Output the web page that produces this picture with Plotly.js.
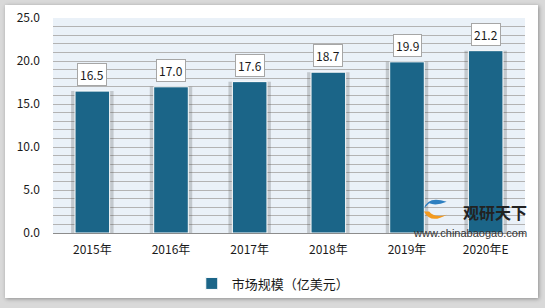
<!DOCTYPE html>
<html>
<head>
<meta charset="utf-8">
<script src="https://cdn.plot.ly/plotly-3.0.1.min.js"></script>
<style>
  html, body { margin:0; padding:0; width:545px; height:308px; background:#d9d9d9; overflow:hidden; }
  #panel { position:absolute; left:5px; top:5px; width:533px; height:293px; background:#fff; box-shadow: 1px 1px 4px rgba(0,0,0,0.35); }
  #chart { width:533px; height:293px; }
</style>
</head>
<body>
<div id="panel"><div id="chart"></div></div>
<script>
const categories = ["2015年", "2016年", "2017年", "2018年", "2019年", "2020年E"];
const marketSize = [16.5, 17.0, 17.6, 18.7, 19.9, 21.2];
const seriesName = "市场规模（亿美元）";
const yTicks = [0, 5, 10, 15, 20, 25];
const yTickText = ["0.0", "5.0", "10.0", "15.0", "20.0", "25.0"];

const FONT = '"Noto Sans CJK SC", "Noto Sans", sans-serif';

const shadow = {
  type: 'bar', x: categories, y: marketSize, width: 0.54,
  marker: { color: 'rgba(60,60,60,0.22)' },
  hoverinfo: 'skip', showlegend: false
};
const bars = {
  type: 'bar', x: categories, y: marketSize, name: seriesName, width: 0.44,
  marker: { color: '#1b6588', line: { color: '#ffffff', width: 1 } }
};

const annotations = categories.map((c, i) => ({
  x: c, y: marketSize[i], xref: 'x', yref: 'y',
  text: marketSize[i].toFixed(1), showarrow: false,
  yanchor: 'bottom', yshift: 5,
  bgcolor: '#ffffff', bordercolor: '#a6a6a6', borderwidth: 1, borderpad: 2,
  font: { family: FONT, size: 12, color: '#1a1a1a' }
}));
annotations.push({
  xref: 'paper', yref: 'paper', x: 1.008, y: 0.098, xanchor: 'right', yanchor: 'middle',
  text: '<b>观研天下</b>', showarrow: false,
  font: { family: FONT, size: 16, color: '#222' }
});
annotations.push({
  xref: 'paper', yref: 'paper', x: 1.008, y: 0.0, xanchor: 'right', yanchor: 'middle',
  text: 'www.chinabaogao.com', showarrow: false,
  font: { family: '"Liberation Sans", Arial, sans-serif', size: 11, color: '#333' }
});

const layout = {
  width: 533, height: 293,
  margin: { l: 48, r: 13, t: 13, b: 65, autoexpand: false },
  paper_bgcolor: 'rgba(0,0,0,0)',
  plot_bgcolor: '#eaf1f8',
  barmode: 'overlay',
  font: { family: FONT, size: 12, color: '#1a1a1a' },
  xaxis: {
    type: 'category', showgrid: false, zeroline: false,
    showline: true, linecolor: '#8c8c8c', linewidth: 1,
    ticks: '', ticklabelstandoff: 6,
    tickfont: { family: FONT, size: 12, color: '#1a1a1a' }
  },
  yaxis: {
    range: [0, 25], tickvals: yTicks, ticktext: yTickText,
    showgrid: true, gridcolor: '#b3b3b3', gridwidth: 1,
    minor: { dtick: 1, showgrid: true, gridcolor: '#b3b3b3', gridwidth: 1 },
    zeroline: false, showline: false, ticks: '', ticklabelstandoff: 12,
    tickfont: { family: FONT, size: 12, color: '#1a1a1a' }
  },
  showlegend: true,
  legend: {
    orientation: 'h', x: 0.294, y: -0.165, xanchor: 'left', yanchor: 'top',
    bgcolor: '#ffffff', borderwidth: 0,
    font: { family: FONT, size: 13, color: '#1a1a1a' }
  },
  annotations: annotations,
  shapes: [
    { type: 'path', xref: 'paper', yref: 'paper',
      path: 'M 0.786 0.115 Q 0.795 0.175 0.834 0.145 Q 0.812 0.125 0.797 0.138 Z',
      fillcolor: '#2d7fc1', line: { width: 0 } },
    { type: 'path', xref: 'paper', yref: 'paper',
      path: 'M 0.786 0.10 Q 0.80 0.04 0.834 0.085 Q 0.808 0.068 0.797 0.10 Z',
      fillcolor: '#f39a1e', line: { width: 0 } }
  ]
};

Plotly.newPlot('chart', [shadow, bars], layout, { displayModeBar: false, staticPlot: true });
</script>
</body>
</html>
